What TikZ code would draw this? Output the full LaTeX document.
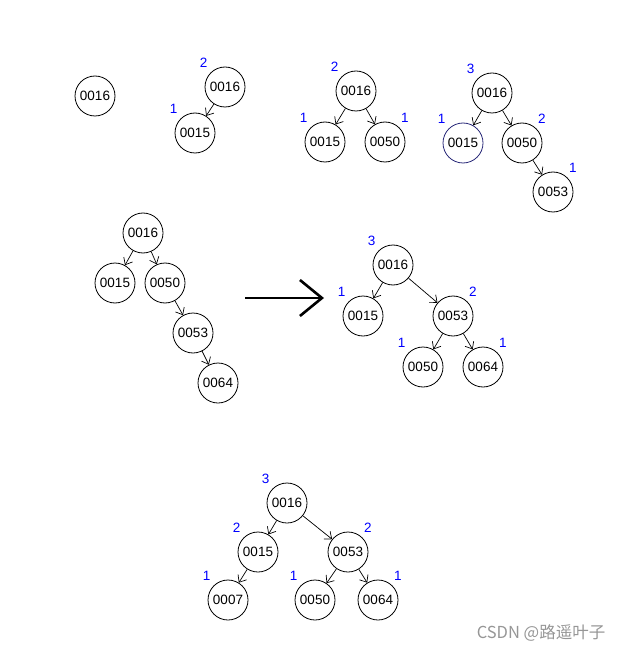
\documentclass[tikz,border=0pt]{standalone}
\usepackage{fontspec}
\setmainfont{Liberation Sans}
\newfontfamily\cjkfont{Noto Sans CJK SC}
\usetikzlibrary{arrows.meta}
\definecolor{hnum}{RGB}{0,0,255}
\definecolor{navy}{RGB}{40,40,120}
\definecolor{mark}{RGB}{150,150,150}

\begin{document}
\begin{tikzpicture}[
  x=1pt, y=-1pt,
  font=\fontsize{13.5}{15}\selectfont,
  key/.style={draw, circle, minimum size=40pt, inner sep=0pt, line width=0.8pt, fill=white},
  num/.style={text=hnum, inner sep=0pt, font=\fontsize{13.5}{15}\selectfont},
  lh/.style={label={[num, anchor=center, label distance=12pt]131:#1}},
  rh/.style={label={[num, anchor=center, label distance=11pt]51:#1}},
  link/.style={-{Straight Barb[length=6pt,width=10pt]}, line width=0.7pt},
  turn/.style={-{Straight Barb[length=22pt,width=36pt]}, line width=2.6pt}
]
\useasboundingbox (0,0) rectangle (626,652);

% insert 0016
\node[key] (a1) at (95,96) {0016};

% insert 0015
\node[key, lh=2] (b1) at (225,87) {0016};
\node[key, lh=1] (b2) at (195,133) {0015};
\draw[link] (b1) -- (b2);

% insert 0050
\node[key, lh=2] (c1) at (356,91) {0016};
\node[key, lh=1] (c2) at (325,142) {0015};
\node[key, rh=1] (c3) at (385,142) {0050};
\draw[link] (c1) -- (c2);
\draw[link] (c1) -- (c3);

% insert 0053
\node[key, lh=3] (d1) at (492,93) {0016};
\node[key, lh=1, draw=navy] (d2) at (463,143) {0015};
\node[key, rh=2] (d3) at (522,143) {0050};
\node[key, rh=1] (d4) at (553,192) {0053};
\draw[link] (d1) -- (d2);
\draw[link] (d1) -- (d3);
\draw[link] (d3) -- (d4);

% insert 0064, unbalanced
\node[key] (e1) at (143,233) {0016};
\node[key] (e2) at (115,283) {0015};
\node[key] (e3) at (165,283) {0050};
\node[key] (e4) at (193,333) {0053};
\node[key] (e5) at (218,383) {0064};
\draw[link] (e1) -- (e2);
\draw[link] (e1) -- (e3);
\draw[link] (e3) -- (e4);
\draw[link] (e4) -- (e5);

\coordinate (arrS) at (245,298);
\coordinate (arrE) at (324,298);
\draw[turn] (arrS) -- (arrE);

% after rotation
\node[key, lh=3] (f1) at (393,265) {0016};
\node[key, lh=1] (f2) at (363,316) {0015};
\node[key, rh=2] (f3) at (453,316) {0053};
\node[key, lh=1] (f4) at (423,367) {0050};
\node[key, rh=1] (f5) at (483,367) {0064};
\draw[link] (f1) -- (f2);
\draw[link] (f1) -- (f3);
\draw[link] (f3) -- (f4);
\draw[link] (f3) -- (f5);

% insert 0007
\node[key, lh=3] (g1) at (287,503) {0016};
\node[key, lh=2] (g2) at (258,552) {0015};
\node[key, rh=2] (g3) at (348,552) {0053};
\node[key, lh=1] (g4) at (228,600) {0007};
\node[key, lh=1] (g5) at (315,600) {0050};
\node[key, rh=1] (g6) at (378,600) {0064};
\draw[link] (g1) -- (g2);
\draw[link] (g1) -- (g3);
\draw[link] (g2) -- (g4);
\draw[link] (g3) -- (g5);
\draw[link] (g3) -- (g6);

\node[text=mark, font=\cjkfont\fontsize{16.5}{18}\selectfont] (wm) at (541,633) {CSDN @路遥叶子};

\end{tikzpicture}
\end{document}
